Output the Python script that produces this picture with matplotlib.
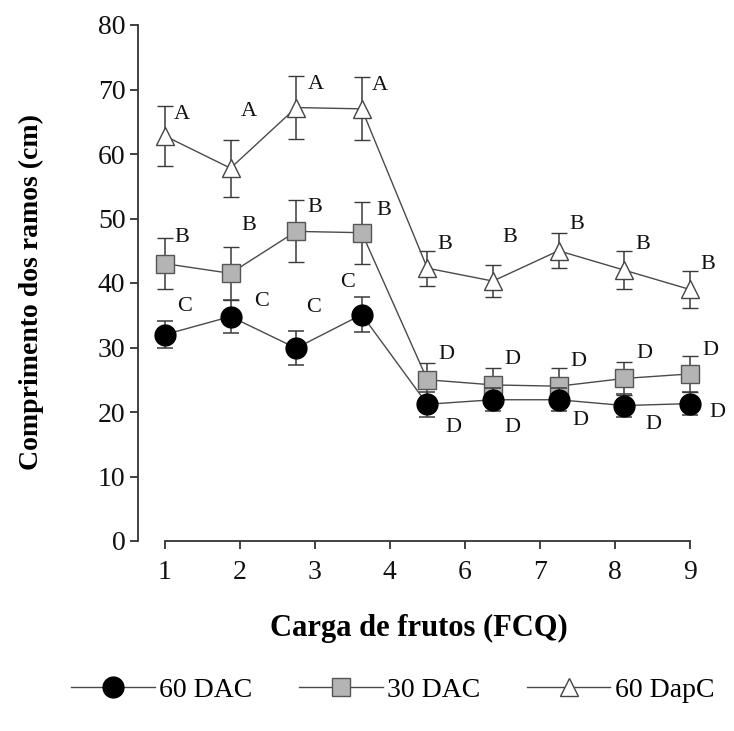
import matplotlib
matplotlib.use("Agg")
import matplotlib.pyplot as plt
from matplotlib.lines import Line2D
import numpy as np

plt.rcParams['font.family'] = ['Liberation Serif', 'DejaVu Serif']

# ---- data ----
tick_labels = ['1', '2', '3', '4', '6', '7', '8', '9']
positions = [0, 1, 2, 3, 4, 5, 6, 7, 8]

dac60 = [32.0, 34.8, 29.9, 35.1, 21.2, 21.9, 21.9, 21.0, 21.3]
dac60_err = [2.1, 2.6, 2.6, 2.7, 1.9, 1.8, 1.8, 1.8, 1.8]
dac60_letters = ['C', 'C', 'C', 'C', 'D', 'D', 'D', 'D', 'D']

dac30 = [43.0, 41.5, 48.0, 47.8, 25.0, 24.2, 24.0, 25.2, 25.9]
dac30_err = [4.0, 4.1, 4.8, 4.8, 2.6, 2.6, 2.8, 2.6, 2.8]
dac30_letters = ['B', 'B', 'B', 'B', 'D', 'D', 'D', 'D', 'D']

dapc60 = [62.8, 57.8, 67.2, 67.0, 42.3, 40.3, 45.0, 42.0, 39.0]
dapc60_err = [4.6, 4.4, 4.9, 4.9, 2.7, 2.5, 2.7, 3.0, 2.8]
dapc60_letters = ['A', 'A', 'A', 'A', 'B', 'B', 'B', 'B', 'B']

# letter label positions (data coords)
dac60_lab_x = [0.30, 1.47, 2.27, 2.79, 4.39, 5.30, 6.33, 7.44, 8.42]
dac60_lab_y = [36.4, 37.2, 36.2, 40.1, 17.6, 17.6, 18.7, 18.0, 19.9]
dac30_lab_x = [0.26, 1.28, 2.28, 3.33, 4.29, 5.29, 6.30, 7.31, 8.31]
dac30_lab_y = [47.0, 48.9, 51.7, 51.2, 28.9, 28.2, 27.9, 29.0, 29.6]
dapc60_lab_x = [0.26, 1.28, 2.30, 3.28, 4.27, 5.26, 6.28, 7.29, 8.27]
dapc60_lab_y = [66.1, 66.6, 70.7, 70.6, 45.9, 47.0, 49.0, 45.9, 42.8]

fig = plt.figure(figsize=(7.34, 7.31), dpi=100)
ax = fig.add_axes([138/734, 1 - 541/731, 561.6/734, 516/731])

line_col = '#4a4a4a'
err_col = '#3a3a3a'

common = dict(capsize=6, elinewidth=1.1, capthick=1.1, ecolor=err_col,
              color=line_col, linewidth=1.0, clip_on=False)

tri_style = dict(marker='^', markersize=13, markerfacecolor='white',
                 markeredgecolor='#444444', markeredgewidth=1.0)
sq_style = dict(marker='s', markersize=13, markerfacecolor='#b4b4b4',
                markeredgecolor='#555555', markeredgewidth=1.0)
ci_style = dict(marker='o', markersize=15, markerfacecolor='black',
                markeredgecolor='black')

ax.errorbar(positions, dapc60, yerr=dapc60_err, zorder=3, **tri_style, **common)
ax.errorbar(positions, dac30, yerr=dac30_err, zorder=4, **sq_style, **common)
ax.errorbar(positions, dac60, yerr=dac60_err, zorder=5, **ci_style, **common)

for xs, ys, labs in [(dac60_lab_x, dac60_lab_y, dac60_letters),
                     (dac30_lab_x, dac30_lab_y, dac30_letters),
                     (dapc60_lab_x, dapc60_lab_y, dapc60_letters)]:
    for xx, yy, t in zip(xs, ys, labs):
        ax.text(xx, yy, t, ha='center', va='center', fontsize=16, color='#111111',
                clip_on=False)

ax.set_xlim(-0.41, 8.15)
ax.set_ylim(0, 80)
ax.set_xticks(np.linspace(0, 8, len(tick_labels)))
ax.set_xticklabels(tick_labels)
ax.set_yticks(np.arange(0, 81, 10))

for s in ['top', 'right']:
    ax.spines[s].set_visible(False)
ax.spines['bottom'].set_bounds(0, 8)
ax.spines['left'].set_bounds(0, 80)
for s in ['bottom', 'left']:
    ax.spines[s].set_color('#333333')
    ax.spines[s].set_linewidth(1.3)
ax.tick_params(axis='both', direction='out', length=6, width=1.3, color='#333333',
               labelsize=20, labelcolor='#111111')
ax.tick_params(axis='x', pad=8)
ax.tick_params(axis='y', pad=3)

ax.set_xlabel('Carga de frutos (FCQ)', fontsize=22, fontweight='bold')
ax.xaxis.set_label_coords(0.5, (541 - 614) / 516)
ax.set_ylabel('Comprimento dos ramos (cm)', fontsize=20, fontweight='bold')
ax.yaxis.set_label_coords((44 - 138) / 561.6, (541 - 292) / 516)

handles = [Line2D([], [], color=line_col, linewidth=1.0, **ci_style),
           Line2D([], [], color=line_col, linewidth=1.0, **sq_style),
           Line2D([], [], color=line_col, linewidth=1.0, **tri_style)]
labels = ['60 DAC', '30 DAC', '60 DapC']
fig.legend(handles, labels, loc='center', bbox_to_anchor=(0.535, 1 - 690/731),
           ncol=3, frameon=False, fontsize=20, handlelength=3.0,
           columnspacing=1.7, handletextpad=0.15)

fig.savefig('out.png', dpi=100)
